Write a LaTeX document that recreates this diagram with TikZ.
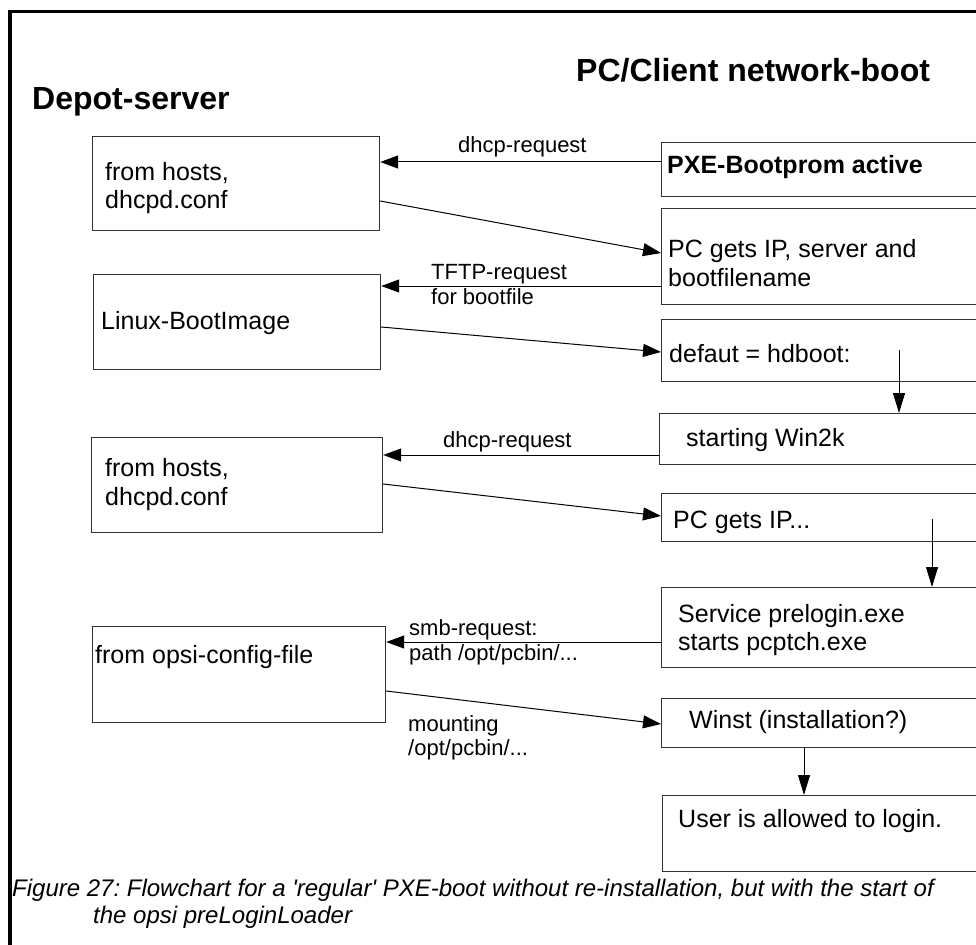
\documentclass[tikz,border=0pt]{standalone}
\usepackage{fontspec}
\setmainfont{Liberation Sans}
\usetikzlibrary{arrows.meta,calc}
\frenchspacing
\begin{document}
\begin{tikzpicture}[x=1pt,y=-1pt,
  box/.style={draw=black!80, line width=1.2pt, anchor=north west, inner sep=0pt},
  txt/.style={anchor=base west, inner sep=0pt, font=\fontsize{25}{29}\selectfont},
  btxt/.style={anchor=base west, inner sep=0pt, font=\fontsize{25}{29}\selectfont\bfseries},
  lbl/.style={anchor=base west, inner sep=0pt, font=\fontsize{22}{25}\selectfont},
  ttl/.style={anchor=base west, inner sep=0pt, font=\fontsize{32}{36}\selectfont\bfseries},
  captxt/.style={anchor=base west, inner sep=0pt, font=\fontsize{24}{27}\selectfont\itshape},
  arr/.style={line width=1pt, -{Triangle[length=18pt,width=13pt]}},
  darr/.style={line width=1pt, -{Triangle[length=20pt,width=12pt]}}
]
\useasboundingbox (0,0) rectangle (976,944);
\clip (0,0) rectangle (976,944);
\fill[white] (0,0) rectangle (976,944);
% outer frame
\draw[line width=3.5pt] (10,11.5) rectangle (1100,1100);

% titles
\node[ttl] (title1) at (576,82) {PC/Client network-boot};
\node[ttl] (title2) at (32,110) {Depot-server};

% left boxes
\node[box, minimum width=287pt, minimum height=94pt] (L1) at (92,136) {};
\node[box, minimum width=287pt, minimum height=95pt] (L2) at (93,274) {};
\node[box, minimum width=291pt, minimum height=95pt] (L3) at (91,437) {};
\node[box, minimum width=293pt, minimum height=96pt] (L4) at (92,626) {};

% right boxes
\node[box, minimum width=340pt, minimum height=54pt] (R1) at (661,142) {};
\node[box, minimum width=340pt, minimum height=96pt] (R2) at (661,208) {};
\node[box, minimum width=340pt, minimum height=62pt] (R3) at (661,319) {};
\node[box, minimum width=340pt, minimum height=51pt] (R4) at (659,413) {};
\node[box, minimum width=340pt, minimum height=48pt] (R5) at (661,493) {};
\node[box, minimum width=340pt, minimum height=80pt] (R6) at (661,587) {};
\node[box, minimum width=340pt, minimum height=49pt] (R7) at (661,698) {};
\node[box, minimum width=340pt, minimum height=76pt] (R8) at (662,795) {};

% box texts
\node[txt] (l1a) at (105,180) {from hosts,};
\node[txt] (l1b) at (105,208) {dhcpd.conf};
\node[txt] (l2a) at (101,329) {Linux-BootImage};
\node[txt] (l3a) at (105,476) {from hosts,};
\node[txt] (l3b) at (105,505) {dhcpd.conf};
\node[txt] (l4a) at (95,663) {from opsi-config-file};

\node[btxt] (r1a) at (667,174) {PXE-Bootprom active};
\node[txt] (r2a) at (668,257) {PC gets IP, server and};
\node[txt] (r2b) at (668,286) {bootfilename};
\node[txt] (r3a) at (669,362) {defaut = hdboot:};
\node[txt] (r4a) at (686,446) {starting Win2k};
\node[txt] (r5a) at (673,528) {PC gets IP...};
\node[txt] (r6a) at (678,622) {Service prelogin.exe};
\node[txt] (r6b) at (678,650) {starts pcptch.exe};
\node[txt] (r7a) at (689,728) {Winst (installation?)};
\node[txt] (r8a) at (678,827) {User is allowed to login.};

% labels
\node[lbl] (k1) at (458,153) {dhcp-request};
\node[lbl] (k2a) at (431,279) {TFTP-request};
\node[lbl] (k2b) at (431,304) {for bootfile};
\node[lbl] (k3) at (443,447) {dhcp-request};
\node[lbl] (k4a) at (409,635) {smb-request:};
\node[lbl] (k4b) at (409,660) {path /opt/pcbin/...};
\node[lbl] (k5a) at (408,731) {mounting};
\node[lbl] (k5b) at (408,755) {/opt/pcbin/...};

% connector end points
\coordinate (a1) at ($(R1.north west)+(0,20)$);
\coordinate (a2s) at ($(L1.north east)+(0,65)$);
\coordinate (a2e) at ($(R2.north west)+(0,45)$);
\coordinate (a3) at ($(R2.north west)+(0,78)$);
\coordinate (a4s) at ($(L2.north east)+(0,53)$);
\coordinate (a4e) at ($(R3.north west)+(0,33)$);
\coordinate (a5) at ($(R3.north west)+(238,31)$);
\coordinate (a6) at ($(R4.north west)+(0,42)$);
\coordinate (a7s) at ($(L3.north east)+(0,47)$);
\coordinate (a7e) at ($(R5.north west)+(0,23)$);
\coordinate (a8) at ($(R5.north west)+(271,26)$);
\coordinate (a9) at ($(R6.north west)+(0,55)$);
\coordinate (a10s) at ($(L4.north east)+(0,65)$);
\coordinate (a10e) at ($(R7.north west)+(0,26)$);
\coordinate (a11) at ($(R7.south west)+(143,0)$);

% connectors
\draw[arr] (a1) -- (a1 -| L1.east);
\draw[arr] (a2s) -- (a2e);
\draw[arr] (a3) -- (a3 -| L2.east);
\draw[arr] (a4s) -- (a4e);
\draw[darr] (a5) -- (a5 |- R4.north);
\draw[arr] (a6) -- (a6 -| L3.east);
\draw[arr] (a7s) -- (a7e);
\draw[darr] (a8) -- (a8 |- R6.north);
\draw[arr] (a9) -- (a9 -| L4.east);
\draw[arr] (a10s) -- (a10e);
\draw[darr] (a11) -- (a11 |- R8.north);

% caption
\node[captxt] (c1) at (12,896) {Figure 27: Flowchart for a \textquotesingle regular\textquotesingle{} PXE-boot without re-installation, but with the start of};
\node[captxt] (c2) at (93,923) {the opsi preLoginLoader};
\end{tikzpicture}
\end{document}
